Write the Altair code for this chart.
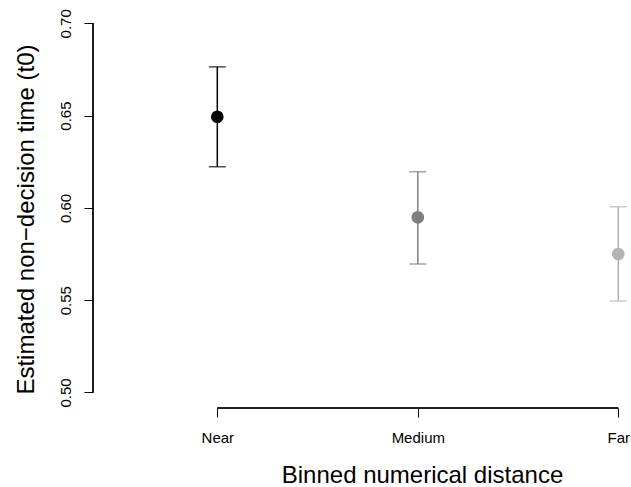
import altair as alt
import pandas as pd

# ---- data ----
categories = ["Near", "Medium", "Far"]
positions = [1, 2, 3]
estimates = [0.6494, 0.5949, 0.5750]
lower = [0.6223, 0.5696, 0.5496]
upper = [0.6764, 0.6196, 0.6006]
colors = ["#000000", "#7F7F7F", "#B3B3B3"]
y_ticks = [0.50, 0.55, 0.60, 0.65, 0.70]

x_domain = [0.38005, 3.0434]
y_domain = [0.49160, 0.70829]

FONT = "Liberation Sans"

df = pd.DataFrame({
    "cat": categories,
    "pos": positions,
    "est": estimates,
    "lo": lower,
    "hi": upper,
})

label_expr = "[" + ",".join("'%s'" % c for c in categories) + "][datum.value - 1]"

x_scale = alt.Scale(domain=x_domain, nice=False, zero=False)
y_scale = alt.Scale(domain=y_domain, nice=False, zero=False)
color_scale = alt.Scale(domain=categories, range=colors)

x_enc = alt.X(
    "pos:Q",
    scale=x_scale,
    axis=alt.Axis(
        values=positions,
        labelExpr=label_expr,
        domain=False,
        grid=False,
        ticks=True,
        tickSize=9,
        tickColor="black",
        tickWidth=1,
        labelFont=FONT,
        labelFontSize=15,
        labelColor="black",
        labelBaseline="alphabetic",
        labelAlign="center",
        labelPadding=25,
        title="Binned numerical distance",
        titleFont=FONT,
        titleFontSize=24,
        titleFontWeight="normal",
        titleColor="black",
        titleX=329,
        titleY=74,
        titleAlign="center",
        titleBaseline="alphabetic",
    ),
)

y_enc = alt.Y(
    "est:Q",
    scale=y_scale,
    axis=alt.Axis(
        values=y_ticks,
        format=".2f",
        domain=False,
        grid=False,
        ticks=True,
        tickSize=9,
        tickColor="black",
        tickWidth=1,
        labelFont=FONT,
        labelFontSize=15,
        labelColor="black",
        labelAngle=270,
        labelAlign="center",
        labelBaseline="alphabetic",
        labelPadding=14,
        title="Estimated non\u2212decision time (t0)",
        titleFont=FONT,
        titleFontSize=24,
        titleFontWeight="normal",
        titleColor="black",
        titleAngle=270,
        titleX=-60,
        titleY=211,
        titleAlign="center",
        titleBaseline="alphabetic",
    ),
)

color_enc = alt.Color("cat:N", scale=color_scale, legend=None)

base = alt.Chart(df)

bars = base.mark_rule(strokeWidth=1.5).encode(
    x=x_enc,
    y=alt.Y("lo:Q", scale=y_scale),
    y2="hi:Q",
    color=color_enc,
)

cap_lo = base.mark_tick(orient="horizontal", size=17, thickness=1.5).encode(
    x=alt.X("pos:Q", scale=x_scale),
    y=alt.Y("lo:Q", scale=y_scale),
    color=color_enc,
)
cap_hi = base.mark_tick(orient="horizontal", size=17, thickness=1.5).encode(
    x=alt.X("pos:Q", scale=x_scale),
    y=alt.Y("hi:Q", scale=y_scale),
    color=color_enc,
)

points = base.mark_circle(size=160, opacity=1).encode(
    x=alt.X("pos:Q", scale=x_scale),
    y=y_enc,
    color=color_enc,
)

y_axis_line = base.mark_rule(color="black", strokeWidth=1).encode(
    x=alt.datum(x_domain[0]),
    y=alt.datum(min(y_ticks)),
    y2=alt.datum(max(y_ticks)),
)

x_axis_line = base.mark_rule(color="black", strokeWidth=1).encode(
    x=alt.datum(min(positions)),
    x2=alt.datum(max(positions)),
    y=alt.datum(y_domain[0]),
)

chart = (
    alt.layer(bars, cap_lo, cap_hi, points, y_axis_line, x_axis_line)
    .properties(
        width=534,
        height=400,
        autosize=alt.AutoSizeParams(type="none"),
        padding={"left": 93, "top": 8, "right": 4, "bottom": 79},
        background="white",
    )
    .configure_view(stroke=None)
)

chart.save("out.html", embed_options={"renderer": "svg", "actions": False})
